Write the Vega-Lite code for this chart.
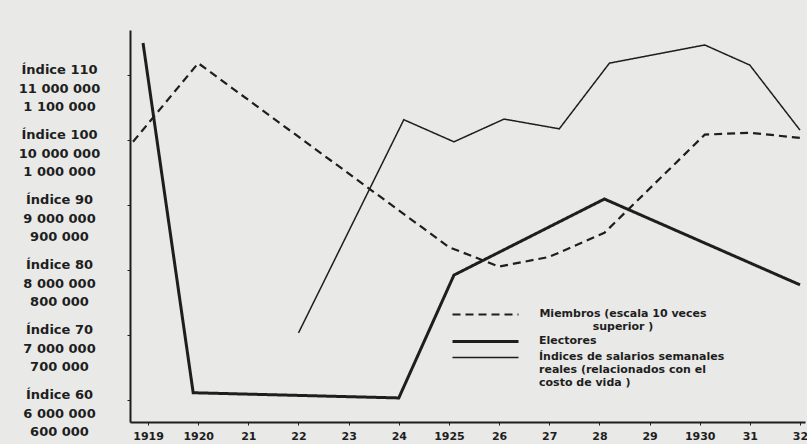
{
  "$schema": "https://vega.github.io/schema/vega-lite/v6.json",
  "width": 675,
  "height": 392,
  "autosize": {"type": "none"},
  "padding": {"left": 130, "top": 30, "right": 2, "bottom": 22},
  "background": "#e9e9e7",
  "config": {
    "view": {"stroke": null},
    "font": "DejaVu Sans",
    "axis": {"grid": false, "domainColor": "#1e1e1e", "domainWidth": 2, "tickColor": "#1e1e1e", "labelColor": "#1e1e1e", "labelFont": "DejaVu Sans", "labelFontWeight": "bold", "title": null}
  },
  "data": {
    "values": [
      {"serie": "Miembros", "anio": 1918.7, "valor": 99.7},
      {"serie": "Miembros", "anio": 1920.0, "valor": 111.8},
      {"serie": "Miembros", "anio": 1925.0, "valor": 83.5},
      {"serie": "Miembros", "anio": 1926.0, "valor": 80.5},
      {"serie": "Miembros", "anio": 1927.0, "valor": 82.0},
      {"serie": "Miembros", "anio": 1928.1, "valor": 85.7},
      {"serie": "Miembros", "anio": 1930.1, "valor": 100.8},
      {"serie": "Miembros", "anio": 1931.0, "valor": 101.1},
      {"serie": "Miembros", "anio": 1932.0, "valor": 100.3},
      {"serie": "Electores", "anio": 1918.9, "valor": 114.9},
      {"serie": "Electores", "anio": 1919.9, "valor": 61.1},
      {"serie": "Electores", "anio": 1924.0, "valor": 60.3},
      {"serie": "Electores", "anio": 1925.1, "valor": 79.2},
      {"serie": "Electores", "anio": 1928.1, "valor": 90.9},
      {"serie": "Electores", "anio": 1932.0, "valor": 77.7},
      {"serie": "Salarios", "anio": 1922.0, "valor": 70.3},
      {"serie": "Salarios", "anio": 1924.1, "valor": 103.1},
      {"serie": "Salarios", "anio": 1925.1, "valor": 99.7},
      {"serie": "Salarios", "anio": 1926.1, "valor": 103.2},
      {"serie": "Salarios", "anio": 1927.2, "valor": 101.7},
      {"serie": "Salarios", "anio": 1928.2, "valor": 111.8},
      {"serie": "Salarios", "anio": 1930.1, "valor": 114.6},
      {"serie": "Salarios", "anio": 1931.0, "valor": 111.5},
      {"serie": "Salarios", "anio": 1932.0, "valor": 101.5}
    ]
  },
  "mark": {"type": "line", "stroke": "#1e1e1e", "strokeJoin": "miter"},
  "encoding": {
    "x": {
      "field": "anio", "type": "quantitative",
      "scale": {"domain": [1918.64, 1932.1], "nice": false, "zero": false},
      "axis": {
        "values": [1919, 1920, 1921, 1922, 1923, 1924, 1925, 1926, 1927, 1928, 1929, 1930, 1931, 1932],
        "labelExpr": "indexof([1919,1920,1925,1930], datum.value) >= 0 ? '' + datum.value : substring('' + datum.value, 2)",
        "labelFontSize": 11, "tickSize": 3, "labelPadding": 5, "labelOverlap": false, "labelFlush": false
      }
    },
    "y": {
      "field": "valor", "type": "quantitative",
      "scale": {"domain": [56.6, 116.9], "nice": false, "zero": false},
      "axis": {
        "values": [60, 70, 80, 90, 100, 110],
        "labelExpr": "datum.value == 110 ? ['Índice 110', '11 000 000', '1 100 000'] : datum.value == 100 ? ['Índice 100', '10 000 000', '1 000 000'] : datum.value == 90 ? ['Índice 90', '9 000 000', '900 000'] : datum.value == 80 ? ['Índice 80', '8 000 000', '800 000'] : datum.value == 70 ? ['Índice 70', '7 000 000', '700 000'] : ['Índice 60', '6 000 000', '600 000']",
        "labelFontSize": 13, "labelAlign": "center", "labelBaseline": "top", "labelOffset": -11,
        "labelLineHeight": 18.5, "labelPadding": 68, "tickSize": 3, "labelOverlap": false, "labelFlush": false, "labelBound": false
      }
    },
    "strokeDash": {
      "field": "serie", "type": "nominal",
      "scale": {"domain": ["Miembros", "Electores", "Salarios"], "range": [[8, 5], [1, 0], [1, 0]]},
      "legend": {
        "orient": "none", "legendX": 350, "legendY": 279, "title": null,
        "symbolType": "M-6,0H6", "symbolSize": 121, "symbolStrokeColor": "#1e1e1e",
        "labelFont": "DejaVu Sans", "labelFontWeight": "bold", "labelFontSize": 11, "labelColor": "#1e1e1e",
        "labelLimit": 0, "labelLineHeight": 16.5, "labelBaseline": "top", "labelOffset": 48, "rowPadding": 2,
        "labelExpr": "datum.value == 'Miembros' ? ['Miembros (escala 10 veces', 'superior )'] : datum.value == 'Electores' ? 'Electores' : ['Índices de salarios semanales', 'reales (relacionados con el', 'costo de vida )']",
        "encode": {
          "symbols": {"update": {"strokeWidth": {"signal": "datum.value == 'Electores' ? 3 : datum.value == 'Miembros' ? 2.2 : 1.5"}, "stroke": {"value": "#1e1e1e"}}},
          "labels": {"update": {
            "dy": {"value": -7},
            "align": {"signal": "datum.value == 'Miembros' ? 'center' : 'left'"},
            "dx": {"signal": "datum.value == 'Miembros' ? 84 : 0"}
          }}
        }
      }
    },
    "strokeWidth": {
      "condition": [
        {"test": "datum.serie == 'Electores'", "value": 3},
        {"test": "datum.serie == 'Miembros'", "value": 2.2}
      ],
      "value": 1.5
    }
  }
}
